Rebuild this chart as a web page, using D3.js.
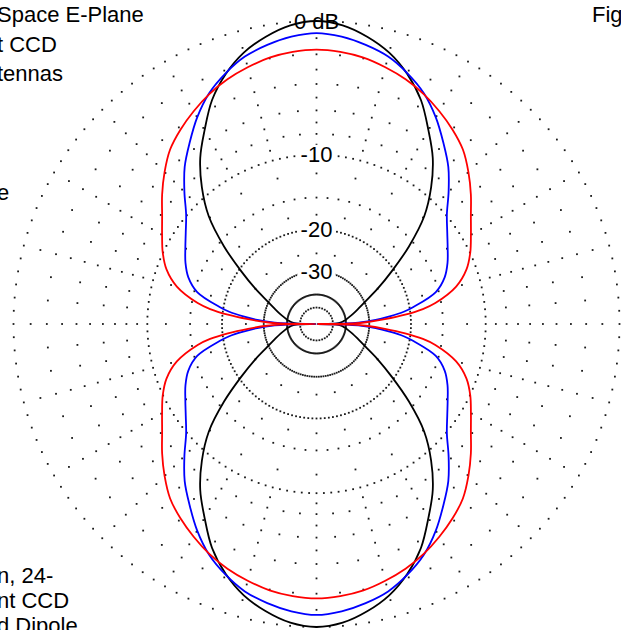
<!DOCTYPE html>
<html><head><meta charset="utf-8">
<script src="https://cdn.jsdelivr.net/npm/d3@7"></script>
<style>html,body{margin:0;padding:0;background:#fff;overflow:hidden}</style>
</head><body>
<svg id="c" width="621" height="630"></svg>
<script>
// elevation angles (deg above horizon) for one quadrant; pattern is symmetric
const elevations = [0, 1, 2, 4, 6, 8, 10, 15, 20, 25, 30, 35, 40, 45, 50, 55, 60, 65, 70, 75, 80, 85, 90];
const blackDb = [-99, -48, -45, -43, -41.5, -40, -39, -36, -33, -29.5, -25, -20.5, -15.8, -11.8, -9.1, -6.9, -5.2, -3.5, -2.25, -1.3, -0.65, -0.18, 0];
const blueDb  = [-99, -40, -34, -28, -24.3, -21.2, -19.3, -15.4, -13.7, -12.7, -11.9, -11.0, -9.9, -8.3, -6.7, -5.4, -4.1, -3.0, -2.2, -1.55, -1.15, -0.85, -0.7];
const redDb   = [-99, -36, -31, -25.5, -21, -17.8, -15.8, -12.7, -11.0, -9.95, -9.1, -8.15, -7.0, -5.9, -4.9, -4.2, -3.6, -3.05, -2.6, -2.25, -1.95, -1.78, -1.7];
// grid
const ringDb = [0, -10, -20, -30, -40];
const innerRingDb = -50;
const majorSpokeDotDb = [-1, -2, -3, -4, -5, -6, -7, -8, -9, -12, -15, -17.5, -25];
const minorSpokeDotDb = [-2, -4, -6, -8, -15];
const ringLabelDb = [0, -10, -20, -30];
const ringLabels = ["0 dB", "-10", "-20", "-30"];
// texts
const titleLines = ["Space E-Plane", "t CCD", "tennas", "", "", "", "e"];
const noteLines = ["n, 24-", "nt CCD", "d Dipole"];
const figLabel = "Fig";

const svg = d3.select("#c");
const cx = 316.5, cy = 324, R = 303;
// ARRL log scale: radius = R * 0.89^(-dB/2), i.e. a power scale of the power ratio
const rScale = d3.scalePow().exponent(-Math.log(0.89) * 5 / Math.log(10)).domain([0, 1]).range([0, R]);
const r = db => rScale(Math.pow(10, db / 10));
const rad = a => a * Math.PI / 180;

const g = svg.append("g").attr("transform", `translate(${cx},${cy})`);
const font = "'Liberation Sans', Arial, sans-serif";

// grid dots
const dots = [];
ringDb.forEach(db => d3.range(0, 360, 2.5).forEach(a => dots.push({a, db})));
d3.range(0, 360, 10).forEach(a => dots.push({a, db: innerRingDb}));
d3.range(0, 360, 5).forEach(a => {
  const list = (a % 15 === 0) ? majorSpokeDotDb : minorSpokeDotDb;
  list.forEach(db => dots.push({a, db}));
});
g.selectAll("rect.dot").data(dots).join("rect")
  .attr("x", d => r(d.db) * Math.cos(rad(d.a)) - 0.9)
  .attr("y", d => -r(d.db) * Math.sin(rad(d.a)) - 0.9)
  .attr("width", 1.8).attr("height", 1.8).attr("fill", "#1a1a1a");

// ring labels with white backing
const lab = g.selectAll("g.rl").data(ringLabelDb).join("g").attr("transform", d => `translate(0,${-r(d)})`);
lab.append("rect").attr("x", (d, i) => i === 0 ? -24 : -19).attr("y", -10)
  .attr("width", (d, i) => i === 0 ? 48 : 38).attr("height", 20).attr("fill", "#fff");
lab.append("text").attr("text-anchor", "middle").attr("dominant-baseline", "central")
  .attr("font-family", font).attr("font-size", 22).attr("fill", "#000")
  .text((d, i) => ringLabels[i]);

// patterns
function full(vals) {
  const pts = [];
  elevations.forEach((e, i) => pts.push({t: e, db: vals[i]}));
  for (let i = elevations.length - 2; i >= 0; i--) pts.push({t: 180 - elevations[i], db: vals[i]});
  for (let i = 1; i < elevations.length; i++) pts.push({t: 180 + elevations[i], db: vals[i]});
  for (let i = elevations.length - 2; i >= 0; i--) pts.push({t: 360 - elevations[i], db: vals[i]});
  return pts;
}
const line = d3.lineRadial().angle(d => rad(90 - d.t)).radius(d => r(d.db)).curve(d3.curveCatmullRom);
[[blackDb, "#000000"], [blueDb, "#0000ff"], [redDb, "#ff0000"]].forEach(([v, c]) => {
  g.append("path").attr("d", line(full(v))).attr("fill", "none").attr("stroke", c).attr("stroke-width", 1.8);
});

// texts
svg.selectAll("text.t").data(titleLines).join("text")
  .attr("x", -3).attr("y", (d, i) => 22 + i * 29.6).attr("font-family", font).attr("font-size", 22).text(d => d);
svg.selectAll("text.n").data(noteLines).join("text")
  .attr("x", -3).attr("y", (d, i) => 583 + i * 25).attr("font-family", font).attr("font-size", 22).text(d => d);
svg.append("text").attr("x", 592).attr("y", 22).attr("font-family", font).attr("font-size", 22).text(figLabel);
</script>
</body></html>
